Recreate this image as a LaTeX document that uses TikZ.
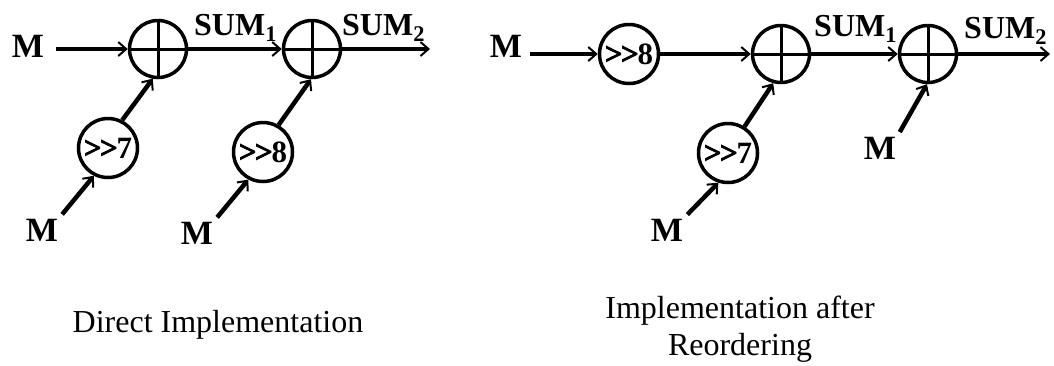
\documentclass[tikz,border=0pt]{standalone}
\usepackage{fontspec}
\setmainfont{Liberation Serif}
\newfontface\heavygt{Liberation Serif Bold}[FakeBold=2.5]
\usetikzlibrary{arrows.meta}
% heavy "greater than" pair used in the shifter labels
\newcommand{\shr}{{\heavygt>\kern-1.5pt>}\kern-1pt}
\begin{document}
\begin{tikzpicture}[x=1pt,y=-1pt,
  lbl/.style={font=\fontsize{34}{36}\selectfont\bfseries, inner sep=2pt},
  sumlbl/.style={font=\fontsize{32}{34}\selectfont\bfseries, inner sep=0pt, anchor=base west},
  adder/.style={circle, draw, line width=3.5pt, minimum size=57pt, inner sep=0pt,
    path picture={\draw[line width=3pt]
      (path picture bounding box.north) -- (path picture bounding box.south)
      (path picture bounding box.west) -- (path picture bounding box.east);}},
  shifter/.style={circle, draw, line width=3.5pt, minimum size=59pt, inner sep=0pt,
    font=\fontsize{31}{32}\selectfont\bfseries},
  sig/.style={line width=4.5pt, -{Straight Barb[length=8pt,width=14pt,line width=2pt]}},
  caption/.style={font=\fontsize{32}{37}\selectfont, align=center, inner sep=0pt}]
\useasboundingbox (0,0) rectangle (1054,365);

% direct implementation
\node[lbl] (mA) at (28,46) {M};
\node[adder] (pA) at (158,49) {};
\node[adder] (pB) at (312,49) {};
\node[shifter] (sA) at (108,148) {\shr7};
\node[shifter] (sB) at (263,152) {\shr8};
\node[lbl] (mB) at (42,230) {M};
\node[lbl] (mC) at (197,233) {M};
\node[sumlbl] (tA) at (194,35) {SUM\textsubscript{1}};
\node[sumlbl] (tB) at (342,35) {SUM\textsubscript{2}};
\coordinate (oA) at (430,49);

\draw[sig, shorten <=10pt] (mA.east |- pA) -- (pA);
\draw[sig] (pA) -- (pB);
\draw[sig] (pB) -- (oA);
\draw[sig] (sA.63) -- (pA.260);
\draw[sig] (sB.60) -- (pB.268);
\draw[sig, shorten <=3pt] (mB.north east) -- (sA.243);
\draw[sig, shorten <=3pt] (mC.north east) -- (sB.242);

% implementation after reordering
\node[lbl] (mD) at (506,46) {M};
\node[shifter] (sC) at (629,54) {\shr8};
\node[adder] (pC) at (781,54) {};
\node[adder] (pD) at (928,54) {};
\node[shifter] (sD) at (728,153) {\shr7};
\node[lbl] (mE) at (667,230) {M};
\node[lbl] (mF) at (880,148) {M};
\node[sumlbl] (tC) at (814,36) {SUM\textsubscript{1}};
\node[sumlbl] (tD) at (964,38) {SUM\textsubscript{2}};
\coordinate (oB) at (1050,54);

\draw[sig, shorten <=6pt] (mD.east |- sC) -- (sC);
\draw[sig] (sC) -- (pC);
\draw[sig] (pC) -- (pD);
\draw[sig] (pD) -- (oB);
\draw[sig] (sD.58) -- (pC.255);
\draw[sig, shorten <=3pt] (mE.north east) -- (sD.252);
\draw[sig, shorten <=3pt] (mF.north east) -- (pD.268);

% captions
\node[caption, anchor=base] (cA) at (218,332) {Direct Implementation};
\node[caption] (cB) at (740,329) {Implementation after\\Reordering};
\end{tikzpicture}
\end{document}
